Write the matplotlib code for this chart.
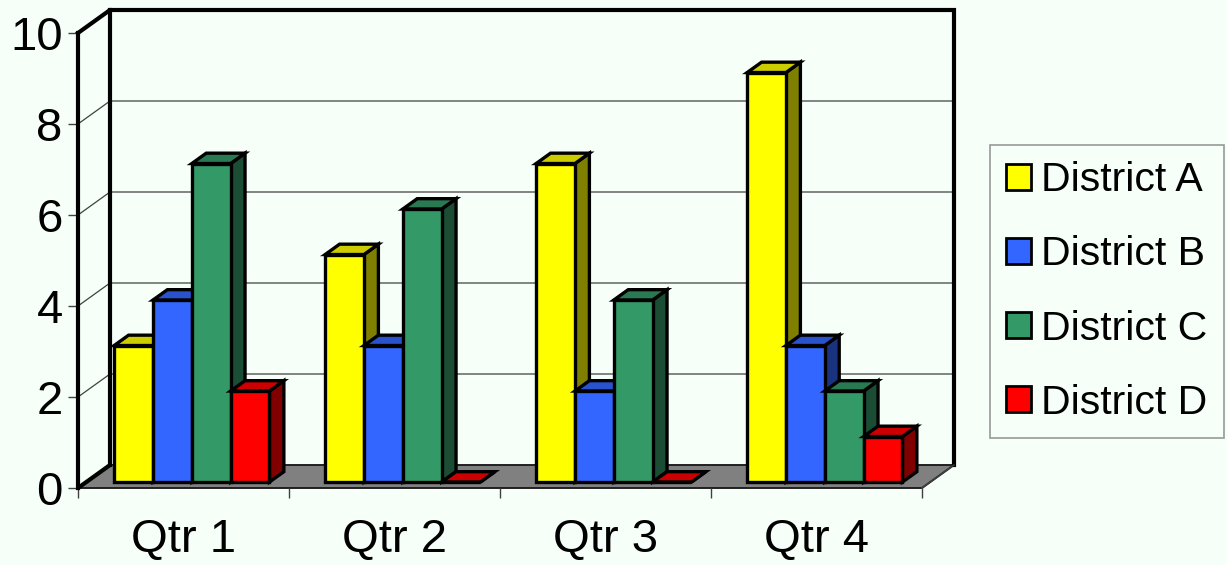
import matplotlib
matplotlib.use("Agg")
import matplotlib.pyplot as plt
from matplotlib.patches import Polygon, Patch
import numpy as np

plt.rcParams['font.family'] = ['Liberation Sans', 'DejaVu Sans']

# ---- data ----
categories = ["Qtr 1", "Qtr 2", "Qtr 3", "Qtr 4"]
series_names = ["District A", "District B", "District C", "District D"]
district_a = [3, 5, 7, 9]
district_b = [4, 3, 2, 3]
district_c = [7, 6, 4, 2]
district_d = [2, 0, 0, 1]
y_ticks = [0, 2, 4, 6, 8, 10]

series_values = [district_a, district_b, district_c, district_d]
front_colors = ["#FFFF00", "#3366FF", "#339966", "#FF0000"]
top_colors = ["#CCCC00", "#2952CC", "#297A52", "#CC0000"]
side_colors = ["#808000", "#1A3380", "#1A4D33", "#800000"]
BG = "#F7FFF9"

W, H = 1227, 565
fig = plt.figure(figsize=(W / 100, H / 100), dpi=100, facecolor=BG)

# front plane of plot in pixels
px_left, px_right, px_top, px_bottom = 78, 922, 33, 488
ax = fig.add_axes([px_left / W, 1 - px_bottom / H,
                   (px_right - px_left) / W, (px_bottom - px_top) / H])
ax.set_facecolor('none')
ncat = len(categories)
ymax = 10
ax.set_xlim(0, ncat)
ax.set_ylim(0, ymax)

# depth offsets in data units
x_per_px = ncat / (px_right - px_left)
y_per_px = ymax / (px_bottom - px_top)
DX = 32 * x_per_px
DY = 23 * y_per_px

def proj(x, y, z):
    return (x + z * DX, y + z * DY)

# floor
floor = Polygon([proj(0, 0, 0), proj(ncat, 0, 0), proj(ncat, 0, 1), proj(0, 0, 1)],
                closed=True, facecolor="#808080", edgecolor="#202020", lw=1.4,
                clip_on=False, zorder=1)
ax.add_patch(floor)

# gridlines on back wall and left wall
for v in y_ticks[1:-1]:
    x0, y0 = proj(0, v, 0)
    x1, y1 = proj(0, v, 1)
    x2, y2 = proj(ncat, v, 1)
    ax.plot([x0, x1, x2], [y0, y1, y2], color="#404040", lw=0.9, clip_on=False, zorder=1.5)

# thick wall outlines
thick = 3.0
x0, y0 = proj(0, 0, 0)
x1, y1 = proj(0, 0, 1)
ax.plot([x0, x1], [y0, y1], color="black", lw=thick, clip_on=False, zorder=2, solid_capstyle='round')
xa, ya = proj(0, ymax, 0)
xb, yb = proj(0, ymax, 1)
xc, yc = proj(ncat, ymax, 1)
xd, yd = proj(ncat, 0, 1)
ax.plot([xa, xb, xc, xd], [ya, yb, yc, yd], color="black", lw=thick, clip_on=False,
        zorder=2, solid_joinstyle='miter')
ax.plot([x1, xb], [y1, yb], color="black", lw=thick, clip_on=False, zorder=2)
xe, ye = proj(ncat, 0, 0)
ax.plot([xe, xd], [ye, yd], color="#404040", lw=1.0, clip_on=False, zorder=2)

# bars
nser = len(series_values)
bw = 0.184
z0, z1 = 0.26, 0.71
edge_lw = 2.4
for c in range(ncat):
    for j in range(nser):
        v = series_values[j][c]
        xl = c + 0.5 - nser * bw / 2 + j * bw
        xr = xl + bw
        zo = 3 + c * nser + j
        side = Polygon([proj(xr, 0, z0), proj(xr, 0, z1), proj(xr, v, z1), proj(xr, v, z0)],
                       closed=True, facecolor=side_colors[j], edgecolor="black",
                       lw=edge_lw, joinstyle='miter', clip_on=False, zorder=zo)
        ax.add_patch(side)
        top = Polygon([proj(xl, v, z0), proj(xr, v, z0), proj(xr, v, z1), proj(xl, v, z1)],
                      closed=True, facecolor=top_colors[j], edgecolor="black",
                      lw=edge_lw, joinstyle='miter', clip_on=False, zorder=zo)
        ax.add_patch(top)
        fx, fy = proj(xl, 0, z0)
        ax.bar(fx, v, width=bw, bottom=fy, align='edge', color=front_colors[j],
               edgecolor="black", linewidth=edge_lw, clip_on=False, zorder=zo + 0.5)

# axes styling
for s in ['top', 'right', 'bottom']:
    ax.spines[s].set_visible(False)
ax.spines['left'].set_linewidth(thick)
ax.spines['left'].set_zorder(2.5)
ax.set_yticks(y_ticks)
ax.set_yticklabels([str(t) for t in y_ticks])
ax.tick_params(axis='y', length=7, width=1, color="#404040", pad=4, labelsize=34)
ax.set_xticks(np.arange(ncat + 1))
ax.set_xticklabels([])
ax.set_xticks(np.arange(ncat) + 0.5, minor=True)
ax.set_xticklabels(categories, minor=True)
ax.tick_params(axis='x', which='major', length=7.5, width=1, color="#404040")
ax.tick_params(axis='x', which='minor', length=0, pad=21.5, labelsize=34)

# legend
handles = [Patch(facecolor=front_colors[j], edgecolor="black", lw=2) for j in range(nser)]
leg = fig.legend(handles, series_names, loc='upper left',
                 bbox_to_anchor=(990 / W, 1 - 145 / H), bbox_transform=fig.transFigure,
                 fontsize=29.5, frameon=True, fancybox=False, shadow=False,
                 handlelength=0.6, handleheight=0.6, handletextpad=0.25,
                 labelspacing=0.88, borderpad=0.4, borderaxespad=0)
leg.get_frame().set_facecolor(BG)
leg.get_frame().set_edgecolor("#808080")
leg.get_frame().set_linewidth(1.2)

fig.savefig("out.png", dpi=100, facecolor=BG)
